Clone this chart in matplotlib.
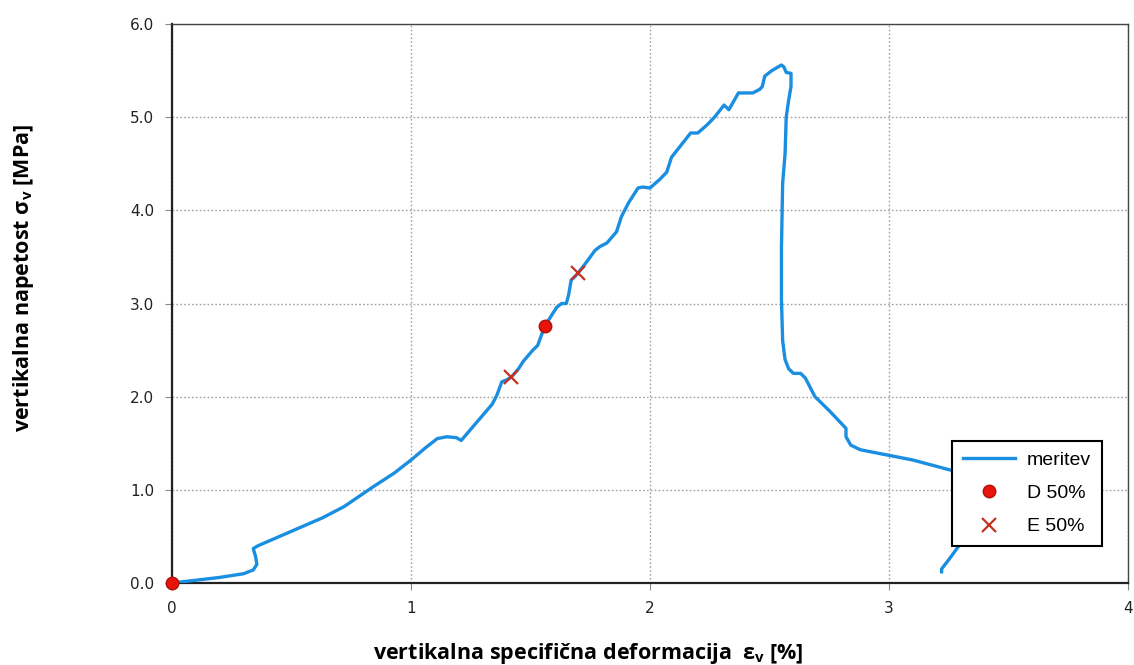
import matplotlib
matplotlib.use("Agg")
import matplotlib.pyplot as plt
from matplotlib.ticker import FormatStrFormatter

# ---- data ----
eps = [0, 0.10, 0.20, 0.30, 0.34, 0.355, 0.35, 0.34, 0.36, 0.45, 0.54, 0.63, 0.72, 0.84, 0.93,
       1.00, 1.06, 1.11, 1.15, 1.19, 1.21, 1.26, 1.30, 1.34, 1.36, 1.38, 1.40, 1.42, 1.45, 1.47,
       1.49, 1.51, 1.53, 1.56, 1.59, 1.61, 1.63, 1.65, 1.66, 1.67, 1.69, 1.70, 1.73, 1.77, 1.79,
       1.82, 1.86, 1.88, 1.91, 1.95, 1.97, 2.00, 2.04, 2.07, 2.09, 2.13, 2.17, 2.20, 2.24, 2.27,
       2.31, 2.33, 2.37, 2.43, 2.46, 2.47, 2.48, 2.51, 2.55, 2.56, 2.57, 2.59, 2.59, 2.58, 2.57,
       2.565, 2.555, 2.55, 2.55, 2.555, 2.565, 2.58, 2.60, 2.63, 2.65, 2.69, 2.75, 2.82, 2.82,
       2.84, 2.88, 3.00, 3.10, 3.26, 3.35, 3.40, 3.38, 3.33, 3.29, 3.25, 3.22, 3.22]
sigma = [0, 0.03, 0.06, 0.10, 0.14, 0.20, 0.28, 0.37, 0.40, 0.50, 0.60, 0.70, 0.82, 1.03, 1.18,
         1.32, 1.45, 1.55, 1.57, 1.56, 1.53, 1.68, 1.80, 1.92, 2.02, 2.16, 2.18, 2.21, 2.30, 2.38,
         2.44, 2.50, 2.55, 2.76, 2.88, 2.96, 3.00, 3.00, 3.10, 3.25, 3.30, 3.33, 3.43, 3.57, 3.61,
         3.65, 3.77, 3.93, 4.08, 4.24, 4.25, 4.24, 4.33, 4.41, 4.57, 4.70, 4.83, 4.83, 4.92, 5.00,
         5.13, 5.08, 5.26, 5.26, 5.30, 5.33, 5.44, 5.50, 5.56, 5.54, 5.48, 5.47, 5.33, 5.18, 5.00,
         4.60, 4.29, 3.60, 3.04, 2.60, 2.40, 2.30, 2.25, 2.25, 2.20, 2.00, 1.85, 1.66, 1.57,
         1.48, 1.43, 1.37, 1.32, 1.21, 1.16, 1.05, 0.80, 0.55, 0.39, 0.25, 0.15, 0.12]

d50_eps = [0.0, 1.56]
d50_sig = [0.0, 2.76]
e50_eps = [1.42, 1.70]
e50_sig = [2.21, 3.33]

x_ticks = [0, 1, 2, 3, 4]
y_ticks = [0.0, 1.0, 2.0, 3.0, 4.0, 5.0, 6.0]

fig = plt.figure(figsize=(11.34, 6.65), dpi=100)
ax = fig.add_axes([172/1134, 1-583/665, 956/1134, 559/665])

ax.plot(eps, sigma, color="#1a8ee0", lw=2.4, label="meritev", zorder=3, solid_joinstyle="round")
ax.plot(d50_eps, d50_sig, ls="none", marker="o", ms=9, mfc="#e8140c", mec="#b01008",
        mew=1, label="D 50%", zorder=5, clip_on=False)
ax.plot(e50_eps, e50_sig, ls="none", marker="x", ms=10, mew=1.6, color="#c8301e",
        label="E 50%", zorder=5)

ax.set_xlim(0, 4)
ax.set_ylim(0, 6)
ax.set_xticks(x_ticks)
ax.set_yticks(y_ticks)
ax.yaxis.set_major_formatter(FormatStrFormatter("%.1f"))
ax.grid(True, color="#a0a0a0", ls=(0, (1.2, 1.6)), lw=1.0)
ax.tick_params(axis="both", direction="out", length=5, width=0.8, color="#888888",
               labelsize=11, pad=8)
for lbl in ax.get_xticklabels() + ax.get_yticklabels():
    lbl.set_fontfamily("DejaVu Sans")
    lbl.set_color("#222222")

for side in ["left", "bottom"]:
    ax.spines[side].set_linewidth(1.6)
    ax.spines[side].set_color("#222222")
for side in ["top", "right"]:
    ax.spines[side].set_linewidth(1.0)
    ax.spines[side].set_color("#444444")

ax.set_xlabel(r"vertikalna specifična deformacija  ε$\mathregular{_v}$ [%]",
              fontfamily="Open Sans", fontweight="bold", fontsize=15.5, va="center")
ax.xaxis.set_label_coords((588-172)/956, -(654-583)/559)
ax.set_ylabel(r"vertikalna napetost σ$\mathregular{_v}$ [MPa]",
              fontfamily="Open Sans", fontweight="bold", fontsize=15.5, va="center")
ax.yaxis.set_label_coords(-(172-24)/956, (583-278)/559)

leg = ax.legend(loc="lower left", bbox_to_anchor=(0.816, 0.066), borderaxespad=0,
                fancybox=False, framealpha=1, edgecolor="black", handlelength=2.7,
                labelspacing=0.8, borderpad=0.55, handletextpad=0.6,
                prop={"family": "Liberation Sans", "size": 14})
leg.get_frame().set_linewidth(1.5)
leg.set_zorder(10)

fig.savefig("out.png", dpi=100, facecolor="white")
